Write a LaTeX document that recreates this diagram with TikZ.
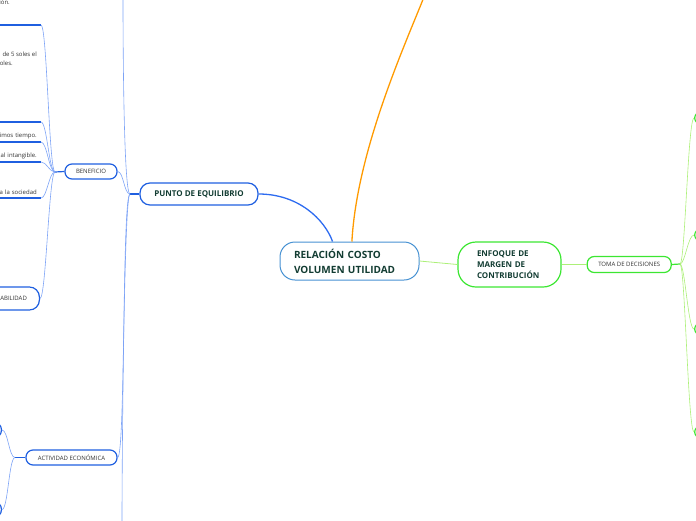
\documentclass[tikz,border=0pt]{standalone}
\usepackage{fontspec}
\setmainfont{Open Sans}
\usepackage{xcolor}
\usepackage{tikz}
\usetikzlibrary{positioning}
\definecolor{bluenode}{RGB}{31,95,224}
\definecolor{bluethin}{RGB}{125,163,246}
\definecolor{bluemain}{RGB}{45,107,240}
\definecolor{centerline}{RGB}{70,145,210}
\definecolor{orangeline}{RGB}{255,154,0}
\definecolor{greennode}{RGB}{60,230,50}
\definecolor{greenthin}{RGB}{172,240,120}
\definecolor{titletext}{RGB}{18,60,50}
\definecolor{smalltext}{RGB}{50,50,50}

\begin{document}
\begin{tikzpicture}[x=1pt,y=-1pt,every node/.style={font=\fontsize{6}{7}\selectfont,text=smalltext},
pill/.style={draw,line width=1.2pt,rounded corners=7pt,inner sep=0pt,minimum height=15pt,align=center},
frag/.style={font=\fontsize{6}{7}\selectfont,inner sep=0pt},
leaf/.style={anchor=south east,text width=45pt,align=right,inner xsep=4pt,inner ysep=3pt,font=\fontsize{6}{7}\selectfont,append after command={(\tikzlastnode.south west) edge[draw=bluenode,line width=1.5pt] (\tikzlastnode.south east)}},
twig/.style={line width=0.6pt}]
\useasboundingbox (0,0) rectangle (696,520);
\clip (0,0) rectangle (696,520);
% central topic and main branches
\node[draw=centerline,line width=1pt,rounded corners=15pt,minimum width=139pt,minimum height=38pt,text width=111pt,inner xsep=14pt,inner ysep=0pt,align=left,font=\fontsize{10}{15}\selectfont\bfseries,text=titletext](root) at (349.5,261){RELACIÓN COSTO\\VOLUMEN UTILIDAD};
\node[pill,draw=bluenode,rounded corners=10pt,minimum width=118pt,minimum height=22pt,font=\fontsize{8}{10}\selectfont\bfseries,text=titletext](punto) at (199,194){PUNTO DE EQUILIBRIO};
\node[pill,draw=greennode,rounded corners=18pt,minimum width=103pt,minimum height=45pt,text width=65pt,inner xsep=19pt,align=left,font=\fontsize{8}{11}\selectfont\bfseries,text=titletext](enfoque) at (509.5,264.5){ENFOQUE DE\\MARGEN DE\\CONTRIBUCIÓN};
\node[pill,draw=greennode,minimum width=84pt,minimum height=16pt,right=25pt of enfoque](toma){TOMA DE DECISIONES};
% left side
\node[pill,draw=bluenode,minimum width=52pt](benef) at (91,171.5){BENEFICIO};
\node[pill,draw=bluenode,minimum width=91pt](activ) at (71.5,457.5){ACTIVIDAD ECONÓMICA};
\node[pill,draw=bluenode,rounded corners=10pt,minimum height=23pt,text width=50pt,align=right,inner xsep=12.5pt,anchor=east](rent) at (40,298.5){ABILIDAD};
\node[pill,draw=bluenode,minimum width=60pt,anchor=east](act1) at (2,430){};
\node[pill,draw=bluenode,minimum width=60pt,anchor=east](act2) at (2,509.5){};
\node[frag,anchor=east](f1) at (10,2){ión.};
\node[frag,anchor=east](f2) at (37,54){de 5 soles el};
\node[frag,anchor=east](f3) at (13,63){oles.};
\node[leaf](b1) at (41,25){};
\node[leaf](b2) at (41,122){};
\node[leaf](b3) at (41,142){imos tiempo.};
\node[leaf](b4) at (41,162){al intangible.};
\node[leaf](b5) at (41,198){a la sociedad};
% right side
\node[pill,draw=greennode,minimum width=50pt,minimum height=13pt,anchor=west](dec1) at (694,118){};
\node[pill,draw=greennode,minimum width=50pt,minimum height=13pt,anchor=west](dec2) at (694,235){};
\node[pill,draw=greennode,minimum width=50pt,minimum height=13pt,anchor=west](dec3) at (694,329){};
\node[pill,draw=greennode,minimum width=50pt,minimum height=13pt,anchor=west](dec4) at (694,432){};
\coordinate (pbr) at (130,194); \coordinate (bbr) at (55,172); \coordinate (abr) at (15,457.5); \coordinate (tbr) at (680,264);
\coordinate (ptop) at (123,-2); \coordinate (pbot) at (122,522); \coordinate (otop) at (424,-3);
% connectors
\draw[bluemain,line width=1.3pt](root.131) .. controls +(-8,-22) and +(40,0) .. (punto.east);
\draw[orangeline,line width=1.3pt](root.83) .. controls +(5,-90) and +(-20,50) .. (otop);
\draw[greenthin,line width=0.8pt](root.east)--(enfoque.west); \draw[greenthin,line width=0.8pt](enfoque.east)--(toma.west);
\draw[bluenode,line width=1.2pt](punto.west)--(pbr); \draw[bluenode,line width=1.2pt](benef.west)--(bbr); \draw[bluenode,line width=1.2pt](activ.west)--(abr);
\draw[greennode,line width=1.2pt](toma.east)--(tbr);
\draw[bluethin,twig](pbr) .. controls +(-6,0) and +(0,60) .. (ptop); \draw[bluethin,twig](pbr) .. controls +(-6,0) and +(0,-60) .. (pbot);
\draw[bluethin,twig](pbr) .. controls +(-6,0) and +(6,0) .. (benef.east); \draw[bluethin,twig](pbr) .. controls +(-8,0) and +(8,0) .. (activ.east);
\draw[bluethin,twig](b1.south east) .. controls +(6,0) and +(-6,0) .. (bbr); \draw[bluethin,twig](b2.south east) .. controls +(6,0) and +(-6,0) .. (bbr);
\draw[bluethin,twig](b3.south east) .. controls +(6,0) and +(-6,0) .. (bbr); \draw[bluethin,twig](b4.south east) .. controls +(6,0) and +(-6,0) .. (bbr);
\draw[bluethin,twig](b5.south east) .. controls +(6,0) and +(-6,0) .. (bbr); \draw[bluethin,twig](bbr) .. controls +(-6,0) and +(6,0) .. (rent.east);
\draw[bluethin,twig](abr) .. controls +(-6,0) and +(6,0) .. (act1.east); \draw[bluethin,twig](abr) .. controls +(-6,0) and +(6,0) .. (act2.east);
\draw[greenthin,twig](tbr) .. controls +(5,0) and +(-6,0) .. (dec1.west); \draw[greenthin,twig](tbr) .. controls +(5,0) and +(-6,0) .. (dec2.west);
\draw[greenthin,twig](tbr) .. controls +(5,0) and +(-6,0) .. (dec3.west); \draw[greenthin,twig](tbr) .. controls +(5,0) and +(-6,0) .. (dec4.west);
\end{tikzpicture}
\end{document}
